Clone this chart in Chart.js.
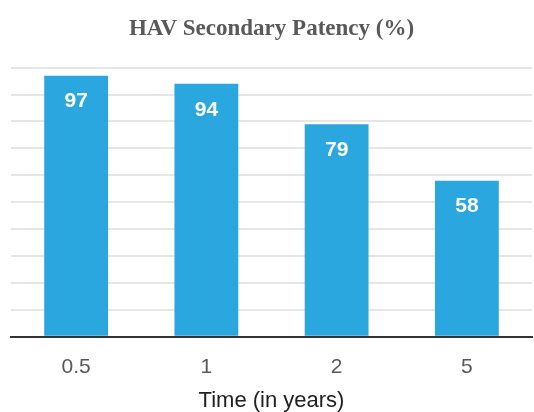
<!DOCTYPE html>
<html>
<head>
<meta charset="utf-8">
<script src="https://cdn.jsdelivr.net/npm/chart.js@4/dist/chart.umd.min.js"></script>
<style>
html,body{margin:0;padding:0;background:#fff;}
canvas{display:block;}
</style>
</head>
<body>
<canvas id="c" width="534" height="412"></canvas>
<script>
const categories = ["0.5", "1", "2", "5"];
const patency = [97, 94, 79, 58];
const chartTitle = "HAV Secondary Patency (%)";
const xTitle = "Time (in years)";

const barLabels = {
  id: 'barLabels',
  afterDatasetsDraw(chart) {
    const ctx = chart.ctx;
    const meta = chart.getDatasetMeta(0);
    ctx.save();
    ctx.fillStyle = '#ffffff';
    ctx.font = 'bold 21px "Liberation Sans", Arial, sans-serif';
    ctx.textAlign = 'center';
    ctx.textBaseline = 'middle';
    meta.data.forEach((bar, i) => {
      ctx.fillText(String(chart.data.datasets[0].data[i]), bar.x, bar.y + 26);
    });
    ctx.restore();
  }
};

new Chart(document.getElementById('c'), {
  type: 'bar',
  data: {
    labels: categories,
    datasets: [{
      data: patency,
      backgroundColor: '#2aa7df',
      borderWidth: 0,
      barPercentage: 0.49,
      categoryPercentage: 1.0
    }]
  },
  options: {
    responsive: false,
    animation: false,
    layout: { padding: { left: 11, right: 2, top: 11, bottom: 0 } },
    plugins: {
      legend: { display: false },
      tooltip: { enabled: false },
      title: {
        display: true,
        text: chartTitle,
        color: '#595959',
        font: { family: '"Liberation Serif", "Times New Roman", serif', size: 23, weight: 'bold' },
        padding: { top: 4, bottom: 25 }
      }
    },
    scales: {
      x: {
        grid: { display: false },
        border: { display: true, color: '#333333', width: 2 },
        ticks: {
          color: '#595959',
          font: { family: '"Liberation Sans", Arial, sans-serif', size: 21 },
          padding: 10
        },
        title: {
          display: true,
          text: xTitle,
          color: '#222222',
          font: { family: '"Liberation Sans", Arial, sans-serif', size: 22, lineHeight: 1.0 },
          padding: { top: 0, bottom: 0 }
        }
      },
      y: {
        min: 0,
        max: 100,
        ticks: { display: false, stepSize: 10 },
        grid: { color: '#e6e6e6', lineWidth: 2, drawTicks: false },
        border: { display: false }
      }
    }
  },
  plugins: [barLabels]
});
</script>
</body>
</html>
